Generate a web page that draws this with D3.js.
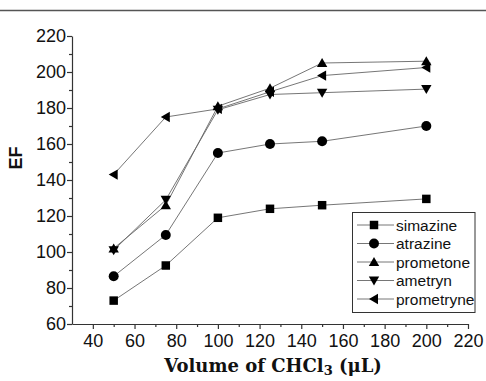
<!DOCTYPE html>
<html><head><meta charset="utf-8">
<script src="https://cdn.jsdelivr.net/npm/d3@7"></script>
<style>body{margin:0;background:#fff;} svg{display:block;}</style>
</head><body>
<svg id="c" width="486" height="381"></svg>
<script>
const volumes = [50, 75, 100, 125, 150, 200];
const simazine = [73, 92.5, 119, 124, 126, 129.5];
const atrazine = [86.5, 109.5, 155, 160, 161.5, 170];
const prometone = [102, 126, 181, 191, 205, 206];
const ametryn = [101, 129, 179, 187.5, 188.5, 190.5];
const prometryne = [143, 175, 179.5, 189, 198, 202.5];
const seriesNames = ["simazine", "atrazine", "prometone", "ametryn", "prometryne"];
const seriesValues = [simazine, atrazine, prometone, ametryn, prometryne];
const xTicks = [40, 60, 80, 100, 120, 140, 160, 180, 200, 220];
const yTicks = [60, 80, 100, 120, 140, 160, 180, 200, 220];

const svg = d3.select("#c");
const x = d3.scaleLinear().domain([30, 220]).range([72, 468]);
const y = d3.scaleLinear().domain([60, 220]).range([324, 36]);

// top rule
svg.append("line").attr("x1", 0).attr("x2", 486).attr("y1", 10.5).attr("y2", 10.5)
  .attr("stroke", "#555").attr("stroke-width", 1.5);

const font = "'Liberation Sans', Arial, sans-serif";
// x axis
svg.append("g").attr("transform", "translate(0,324)")
  .call(d3.axisBottom(x).tickValues(xTicks).tickSize(5).tickSizeOuter(0).tickPadding(5));
svg.append("g").attr("transform", "translate(0,324)")
  .call(d3.axisBottom(x).tickValues(d3.range(50, 220, 20)).tickSize(3).tickFormat(""))
  .select(".domain").remove();
svg.append("g").attr("transform", "translate(72,0)")
  .call(d3.axisLeft(y).tickValues(yTicks).tickSize(5).tickSizeOuter(0).tickPadding(1));
svg.append("g").attr("transform", "translate(72,0)")
  .call(d3.axisLeft(y).tickValues(d3.range(70, 220, 20)).tickSize(3).tickFormat(""))
  .select(".domain").remove();
svg.selectAll(".tick text").attr("font-family", font).attr("font-size", 18).attr("fill", "#111");
svg.selectAll(".domain, .tick line").attr("stroke", "#333").attr("stroke-width", 1.2);

const symTypes = [d3.symbolSquare, d3.symbolCircle, "up", "down", "left"];
function marker(sel, t) {
  if (t === "up") sel.append("path").attr("d", "M0,-5L5.2,4L-5.2,4Z");
  else if (t === "down") sel.append("path").attr("d", "M0,5L5.2,-4L-5.2,-4Z");
  else if (t === "left") sel.append("path").attr("d", "M-5,0L4,-5.2L4,5.2Z");
  else if (t === d3.symbolSquare) sel.append("path").attr("d", d3.symbol().type(t).size(72)());
  else sel.append("path").attr("d", d3.symbol().type(t).size(78)());
}

const line = d3.line().x((d, i) => x(volumes[i])).y(d => y(d));
seriesValues.forEach((vals) => {
  svg.append("path").attr("d", line(vals)).attr("fill", "none")
    .attr("stroke", "#666").attr("stroke-width", 0.9);
});
seriesValues.forEach((vals, s) => {
  vals.forEach((v, i) => {
    const g = svg.append("g").attr("transform", `translate(${x(volumes[i])},${y(v)})`).attr("fill", "#000");
    marker(g, symTypes[s]);
  });
});

// legend
const lg = svg.append("g");
lg.append("rect").attr("x", 352.5).attr("y", 212.5).attr("width", 122.5).attr("height", 100)
  .attr("fill", "#fff").attr("stroke", "#333").attr("stroke-width", 1);
seriesNames.forEach((n, i) => {
  const yy = 225 + i * 18.5;
  lg.append("line").attr("x1", 357).attr("x2", 394).attr("y1", yy).attr("y2", yy)
    .attr("stroke", "#666").attr("stroke-width", 0.9);
  const g = lg.append("g").attr("transform", `translate(374,${yy})`);
  marker(g, symTypes[i]);
  lg.append("text").attr("x", 396).attr("y", yy + 5.5).text(n)
    .attr("font-family", font).attr("font-size", 15.5).attr("fill", "#111");
});

// axis titles
const t = svg.append("text").attr("x", 273).attr("y", 372).attr("text-anchor", "middle")
  .attr("font-family", "'DejaVu Serif', 'Liberation Serif', serif").attr("font-weight", "bold")
  .attr("font-size", 18).attr("fill", "#111");
t.append("tspan").text("Volume of CHCl");
t.append("tspan").text("3").attr("font-size", 13).attr("dy", 3);
t.append("tspan").text(" (μL)").attr("dy", -3);
svg.append("text").attr("transform", "translate(22,158) rotate(-90)").attr("text-anchor", "middle")
  .attr("font-family", font).attr("font-weight", "bold")
  .attr("font-size", 18).attr("fill", "#111").text("EF");
</script>
</body></html>
